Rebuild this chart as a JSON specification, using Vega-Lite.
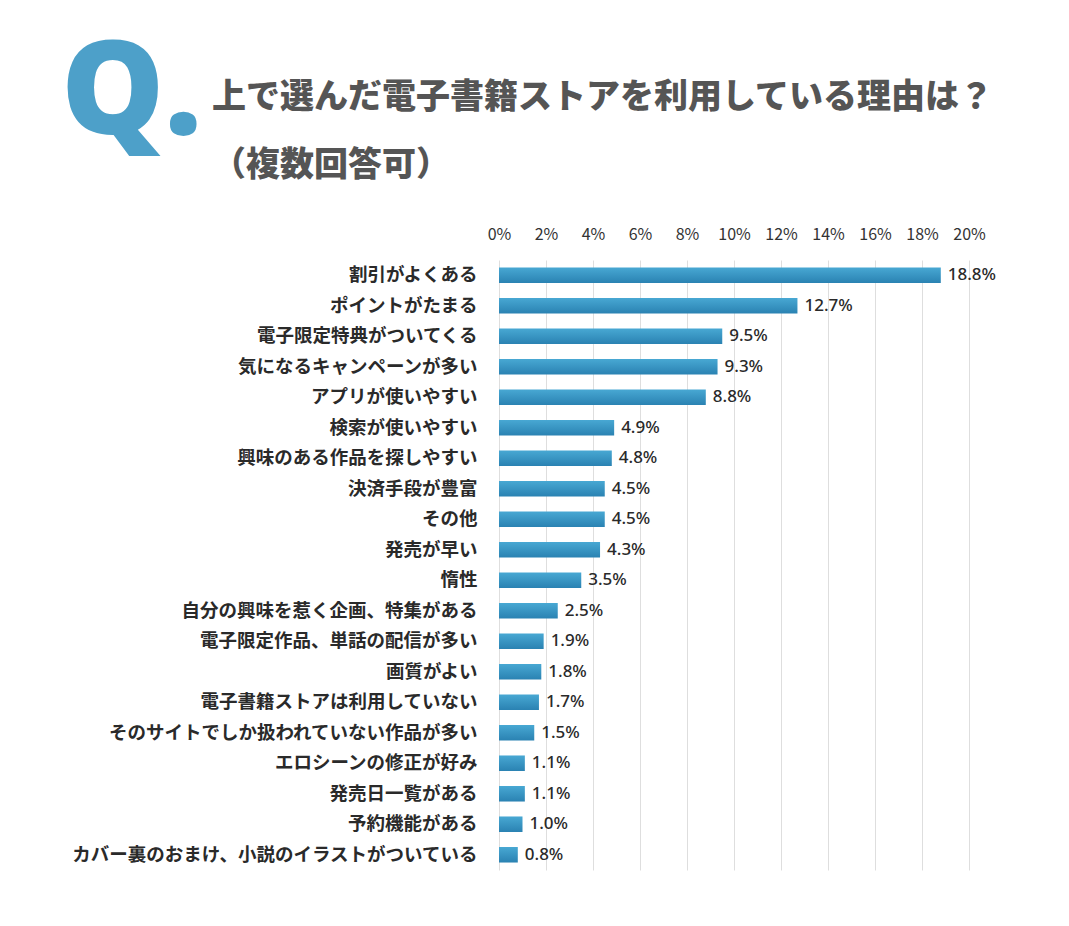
{
  "$schema": "https://vega.github.io/schema/vega-lite/v6.json",
  "padding": {"left": 60, "top": 30, "right": 10, "bottom": 10},
  "background": "white",
  "title": {"text": "Q.", "anchor": "start", "fontSize": 130, "font": "Open Sans", "fontWeight": 800, "color": "#4da0c9", "offset": -80, "dx": -10},
  "config": {"view": {"stroke": null}, "concat": {"spacing": 0}},
  "vconcat": [
    {
      "title": {
        "text": ["上で選んだ電子書籍ストアを利用している理由は？", "（複数回答可）"],
        "anchor": "start", "font": "Noto Sans CJK JP", "fontSize": 34, "fontWeight": 900,
        "color": "#555555", "lineHeight": 68, "dx": 141, "offset": 43
      },
      "width": 470,
      "height": 610,
      "data": {
        "values": [
          {"reason": "割引がよくある", "value": 0.188},
          {"reason": "ポイントがたまる", "value": 0.127},
          {"reason": "電子限定特典がついてくる", "value": 0.095},
          {"reason": "気になるキャンペーンが多い", "value": 0.093},
          {"reason": "アプリが使いやすい", "value": 0.088},
          {"reason": "検索が使いやすい", "value": 0.049},
          {"reason": "興味のある作品を探しやすい", "value": 0.048},
          {"reason": "決済手段が豊富", "value": 0.045},
          {"reason": "その他", "value": 0.045},
          {"reason": "発売が早い", "value": 0.043},
          {"reason": "惰性", "value": 0.035},
          {"reason": "自分の興味を惹く企画、特集がある", "value": 0.025},
          {"reason": "電子限定作品、単話の配信が多い", "value": 0.019},
          {"reason": "画質がよい", "value": 0.018},
          {"reason": "電子書籍ストアは利用していない", "value": 0.017},
          {"reason": "そのサイトでしか扱われていない作品が多い", "value": 0.015},
          {"reason": "エロシーンの修正が好み", "value": 0.011},
          {"reason": "発売日一覧がある", "value": 0.011},
          {"reason": "予約機能がある", "value": 0.010},
          {"reason": "カバー裏のおまけ、小説のイラストがついている", "value": 0.008}
        ]
      },
      "encoding": {
        "y": {
          "field": "reason", "type": "nominal", "sort": null,
          "scale": {"paddingInner": 0.49, "paddingOuter": 0.245},
          "axis": {
            "title": null, "ticks": false, "domain": false,
            "labelFont": "Noto Sans CJK JP", "labelFontSize": 18.5, "labelFontWeight": "bold",
            "labelColor": "#2a2a2a", "labelPadding": 22, "labelLimit": 600
          }
        },
        "x": {
          "field": "value", "type": "quantitative",
          "scale": {"domain": [0, 0.2], "nice": false},
          "axis": {
            "orient": "top", "title": null, "ticks": false, "domain": false,
            "values": [0, 0.02, 0.04, 0.06, 0.08, 0.1, 0.12, 0.14, 0.16, 0.18, 0.2],
            "format": ".0%", "labelFont": "Noto Sans CJK JP", "labelFontSize": 16,
            "labelColor": "#333333", "labelPadding": 18, "labelFlush": false, "labelOverlap": false,
            "grid": true, "gridColor": "#dedede", "gridWidth": 1
          }
        }
      },
      "layer": [
        {
          "mark": {
            "type": "bar",
            "color": {
              "gradient": "linear", "x1": 0, "y1": 0, "x2": 0, "y2": 1,
              "stops": [
                {"offset": 0, "color": "#48a8d3"},
                {"offset": 1, "color": "#2a82b2"}
              ]
            }
          }
        },
        {
          "mark": {"type": "text", "align": "left", "baseline": "middle", "dx": 7, "font": "Noto Sans", "fontSize": 17, "fontWeight": 500, "color": "#2a2a2a"},
          "encoding": {"text": {"field": "value", "type": "quantitative", "format": ".1%"}}
        }
      ]
    }
  ]
}
